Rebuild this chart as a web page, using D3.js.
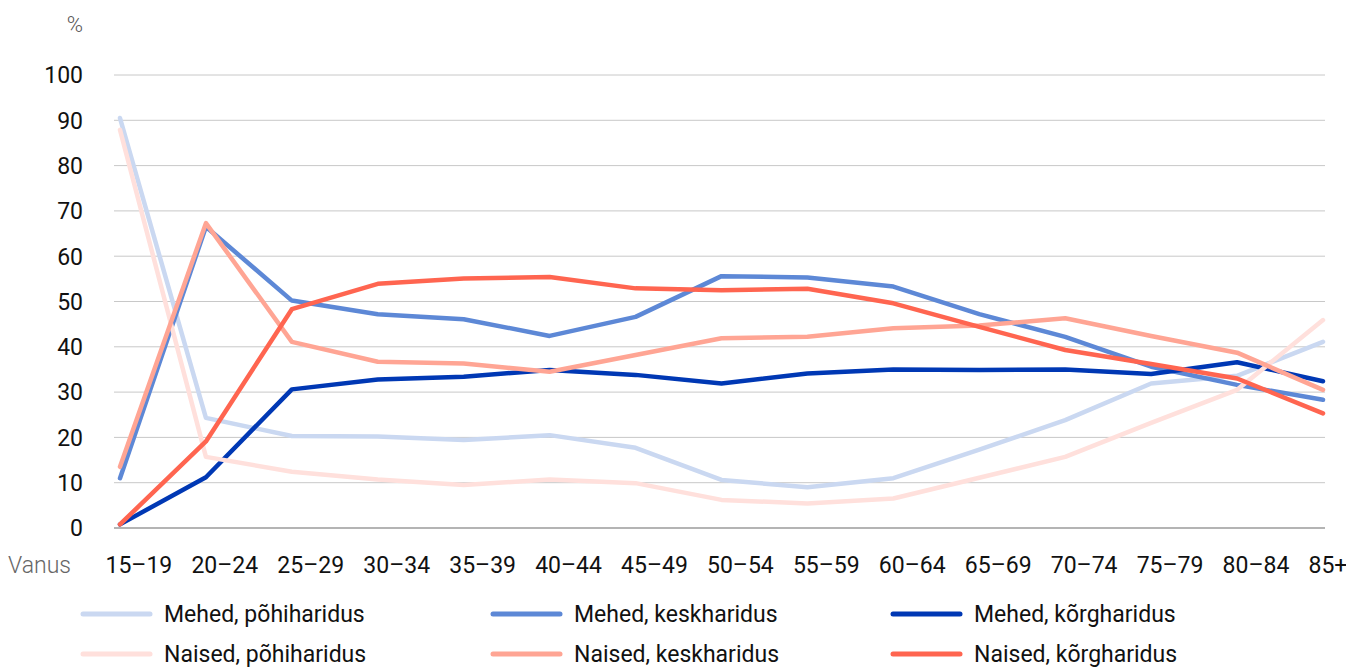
<!DOCTYPE html>
<html>
<head>
<meta charset="utf-8">
<script src="https://cdn.jsdelivr.net/npm/d3@7"></script>
<style>
    body { margin: 0; background: #fff; }
    svg { display: block; font-family: Roboto, 'Noto Sans', sans-serif; }
</style>
</head>
<body>
<div id="chart"></div>
<script>
// age groups on the x axis
const ages = ['15–19', '20–24', '25–29', '30–34', '35–39', '40–44', '45–49', '50–54',
    '55–59', '60–64', '65–69', '70–74', '75–79', '80–84', '85+'];
const yTicks = [0, 10, 20, 30, 40, 50, 60, 70, 80, 90, 100];

// shares in %
const mehedPohi = [90.5, 24.3, 20.3, 20.2, 19.4, 20.5, 17.7, 10.6, 9.0, 11.0, 17.3, 23.8, 31.9, 33.6, 41.1];
const mehedKesk = [11.0, 66.5, 50.2, 47.2, 46.1, 42.4, 46.6, 55.6, 55.3, 53.3, 47.2, 42.2, 35.6, 31.6, 28.3];
const mehedKorg = [0.8, 11.2, 30.6, 32.8, 33.4, 34.9, 33.8, 31.9, 34.1, 35.0, 34.9, 35.0, 34.0, 36.6, 32.4];
const naisedPohi = [87.9, 15.7, 12.4, 10.7, 9.5, 10.7, 9.9, 6.2, 5.4, 6.5, 11.1, 15.7, 23.2, 30.5, 45.9];
const naisedKesk = [13.5, 67.3, 41.1, 36.7, 36.3, 34.5, 38.2, 41.9, 42.2, 44.1, 44.7, 46.3, 42.4, 38.7, 30.5];
const naisedKorg = [0.8, 19.1, 48.3, 53.9, 55.1, 55.4, 52.9, 52.5, 52.8, 49.6, 44.4, 39.3, 36.2, 33.0, 25.3];

const seriesNames = ['Mehed, põhiharidus', 'Mehed, keskharidus', 'Mehed, kõrgharidus',
    'Naised, põhiharidus', 'Naised, keskharidus', 'Naised, kõrgharidus'];
const seriesValues = [mehedPohi, mehedKesk, mehedKorg, naisedPohi, naisedKesk, naisedKorg];
const seriesColors = ['#cad8f1', '#5d88d6', '#0038b4', '#ffe0dc', '#ffa594', '#ff6550'];

const width = 1346;
const height = 668;

let x = d3.scalePoint()
    .domain(ages)
    .range([120, 1323]);

let y = d3.scaleLinear()
    .domain([0, 100])
    .range([528, 75]);

const svg = d3.select('#chart')
    .append('svg')
    .attr('width', width)
    .attr('height', height);

// grid lines
svg.append('g')
    .selectAll('line')
    .data(yTicks)
    .enter()
    .append('line')
    .attr('x1', 114)
    .attr('x2', 1325)
    .attr('y1', d => y(d))
    .attr('y2', d => y(d))
    .attr('stroke', d => d === 0 ? '#b4b4b4' : '#c8c8c8')
    .attr('stroke-width', d => d === 0 ? 2 : 1);

// y axis labels
let yAxis = (g) => g
    .attr('transform', 'translate(83,0)')
    .call(d3.axisLeft(y).tickValues(yTicks).tickSize(0).tickPadding(0))
    .call(g => g.select('.domain').remove());

svg.append('g')
    .call(yAxis)
    .selectAll('text')
    .attr('font-family', 'Roboto, sans-serif')
    .attr('font-size', 23)
    .attr('fill', '#111')
    .attr('dy', '0.34em');

svg.append('text')
    .attr('x', 83)
    .attr('y', 32)
    .attr('text-anchor', 'end')
    .attr('font-size', 22)
    .attr('font-weight', 300)
    .attr('fill', '#555')
    .text('%');

// x axis labels
let xAxis = (g) => g
    .attr('transform', 'translate(0,573)')
    .call(d3.axisBottom(x).tickSize(0).tickPadding(0))
    .call(g => g.select('.domain').remove());

svg.append('g')
    .call(xAxis)
    .selectAll('text')
    .attr('font-family', 'Roboto, sans-serif')
    .attr('font-size', 23)
    .attr('fill', '#111')
    .attr('text-anchor', 'start')
    .attr('dx', -15)
    .attr('dy', 0)
    .attr('y', 0);

svg.append('text')
    .attr('x', 8)
    .attr('y', 573)
    .attr('font-size', 23)
    .attr('font-weight', 300)
    .attr('fill', '#666')
    .text('Vanus');

// lines
let line = d3.line()
    .x((d, i) => x(ages[i]))
    .y(d => y(d));

svg.append('g')
    .selectAll('path')
    .data(seriesValues)
    .enter()
    .append('path')
    .attr('d', d => line(d))
    .attr('fill', 'none')
    .attr('stroke', (d, i) => seriesColors[i])
    .attr('stroke-width', 4.5)
    .attr('stroke-linejoin', 'round')
    .attr('stroke-linecap', 'round');

// legend, 3 columns x 2 rows
const legendCols = [83, 493, 893];
const legendRows = [614, 654];

let legend = svg.append('g')
    .selectAll('g')
    .data(seriesNames)
    .enter()
    .append('g')
    .attr('transform', (d, i) => `translate(${legendCols[i % 3]},${legendRows[Math.floor(i / 3)]})`);

legend.append('line')
    .attr('x1', 0)
    .attr('x2', 67)
    .attr('stroke', (d, i) => seriesColors[i])
    .attr('stroke-width', 5)
    .attr('stroke-linecap', 'round');

legend.append('text')
    .attr('x', 81)
    .attr('y', 8)
    .attr('font-size', 23)
    .attr('fill', '#111')
    .text(d => d);
</script>
</body>
</html>
